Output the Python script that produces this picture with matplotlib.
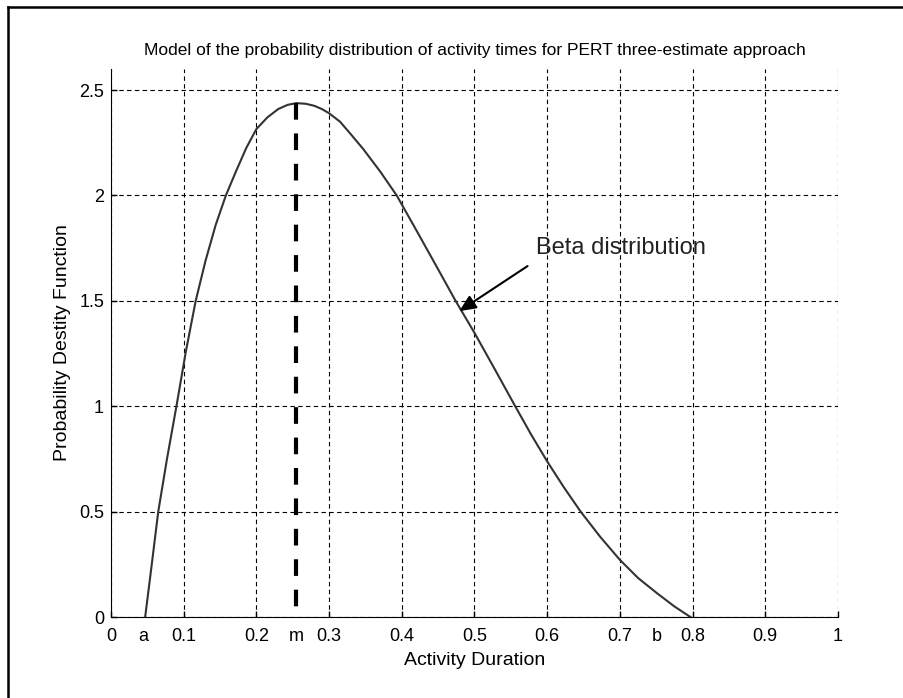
import matplotlib
matplotlib.use('Agg')
import matplotlib.pyplot as plt
from matplotlib.lines import Line2D

plt.rcParams['font.family'] = ['Liberation Sans', 'DejaVu Sans']

# --- data ---
dur = [0.047, 0.055, 0.065, 0.077, 0.090, 0.103, 0.1165, 0.13, 0.144, 0.158,
       0.172, 0.186, 0.2, 0.215, 0.23, 0.243, 0.255, 0.268, 0.28, 0.29,
       0.3, 0.315, 0.33, 0.347, 0.37, 0.393, 0.42, 0.447, 0.474, 0.5,
       0.528, 0.556, 0.578, 0.6, 0.623, 0.646, 0.673, 0.7, 0.725, 0.751,
       0.775, 0.797]
pdf = [0.0, 0.22, 0.5, 0.75, 1.0, 1.26, 1.5, 1.69, 1.86, 2.0,
       2.115, 2.225, 2.315, 2.37, 2.41, 2.43, 2.438, 2.435, 2.425, 2.41,
       2.39, 2.35, 2.29, 2.22, 2.115, 2.0, 1.835, 1.668, 1.5, 1.348,
       1.175, 1.0, 0.865, 0.738, 0.615, 0.5, 0.38, 0.271, 0.185, 0.113,
       0.05, 0.0]

a_val, m_val, b_val = 0.0445, 0.2545, 0.7506
peak = 2.438
xticks = [0, 0.1, 0.2, 0.3, 0.4, 0.5, 0.6, 0.7, 0.8, 0.9, 1]
xtick_labels = ['0', '0.1', '0.2', '0.3', '0.4', '0.5', '0.6', '0.7', '0.8', '0.9', '1']
yticks = [0, 0.5, 1, 1.5, 2, 2.5]
ytick_labels = ['0', '0.5', '1', '1.5', '2', '2.5']

fig = plt.figure(figsize=(9.04, 6.98), dpi=100)
ax = fig.add_axes([111 / 904, 1 - 617 / 698, 727 / 904, 548 / 698])

ax.plot(dur, pdf, color='#333333', lw=1.5)
ax.plot([m_val, m_val], [peak, 0], color='black', lw=3, linestyle=(0, (4, 3.3)))

ax.set_xlim(0, 1)
ax.set_ylim(0, 2.6)
ax.set_xticks(xticks, xtick_labels)
ax.set_yticks(yticks, ytick_labels)
ax.set_xticks([a_val, m_val, b_val], ['a', 'm', 'b'], minor=True)
ax.tick_params(which='major', direction='in', length=4, width=1, labelsize=13)
ax.tick_params(axis='x', which='major', pad=8)
ax.tick_params(axis='y', which='major', pad=5)
ax.tick_params(axis='x', which='minor', length=0, labelsize=13, pad=8)

ax.grid(True, color='black', lw=0.8, linestyle=(0, (4, 3)))
ax.spines['top'].set_visible(False)
ax.spines['right'].set_visible(False)

ax.set_title('Model of the probability distribution of activity times for PERT three-estimate approach',
             fontsize=12.5, pad=10)
ax.set_xlabel('Activity Duration', fontsize=14, labelpad=5)
ax.set_ylabel('Probability Destity Function', fontsize=14, labelpad=6)

ax.annotate('', xy=(0.479, 1.451), xytext=(0.573, 1.665),
            arrowprops=dict(arrowstyle='-|>,head_length=1.0,head_width=0.45',
                            color='black', lw=1.5, shrinkA=0, shrinkB=0))
ax.text(0.585, 1.752, 'Beta distribution', fontsize=17, ha='left', va='center', color='#222222')

# outer frame (left and top edges visible)
fig.add_artist(Line2D([8 / 904, 8 / 904], [0, 1 - 7 / 698], color='black', lw=1.8))
fig.add_artist(Line2D([8 / 904, 1], [1 - 7 / 698, 1 - 7 / 698], color='black', lw=1.8))

fig.savefig('out.png', dpi=100)
